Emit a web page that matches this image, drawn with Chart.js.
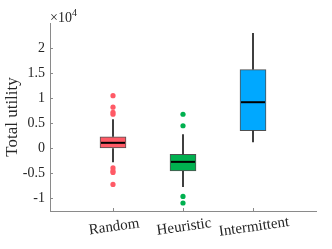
<!DOCTYPE html>
<html>
<head>
<meta charset="utf-8">
<script src="https://cdn.jsdelivr.net/npm/chart.js@4"></script>
<style>
  html, body { margin: 0; padding: 0; background: #fff; }
  #wrap { width: 332px; height: 249px; }
</style>
</head>
<body>
<div id="wrap"><canvas id="chart" width="332" height="249"></canvas></div>
<script>
// values in units of 10^4
const categories = ['Random', 'Heuristic', 'Intermittent'];
const q1 = [0.0, -0.45, 0.35];
const q3 = [0.23, -0.12, 1.57];
const medians = [0.11, -0.27, 0.92];
const whiskerLow = [-0.28, -0.77, 0.12];
const whiskerHigh = [0.58, 0.28, 2.30];
const outliersRandom = [1.05, 0.82, 0.72, 0.68, -0.39, -0.45, -0.48, -0.72];
const outliersHeuristic = [0.68, 0.45, -0.96, -1.09];
const outliersIntermittent = [];
const yTicks = [-1, -0.5, 0, 0.5, 1, 1.5, 2];

const boxColors = ['#ff5a66', '#00b04f', '#00a8ff'];
const textColor = '#262626';
const axisColor = '#8a8a8a';
const serif = '"Liberation Serif", "Times New Roman", serif';

function pts(vals, i) {
    return vals.map(v => ({ x: i + 1, y: v }));
}

// whiskers, medians, inner ticks, rotated category labels, exponent
const boxExtras = {
    id: 'boxExtras',
    afterDatasetsDraw(chart) {
        const ctx = chart.ctx;
        const xs = chart.scales.x, ys = chart.scales.y;
        const half = 13;
        ctx.save();
        ctx.strokeStyle = '#000';
        for (let i = 0; i < categories.length; i++) {
            const px = xs.getPixelForValue(i + 1);
            ctx.lineWidth = 1.5;
            ctx.beginPath();
            ctx.moveTo(px, ys.getPixelForValue(q3[i]));
            ctx.lineTo(px, ys.getPixelForValue(whiskerHigh[i]));
            ctx.moveTo(px, ys.getPixelForValue(q1[i]));
            ctx.lineTo(px, ys.getPixelForValue(whiskerLow[i]));
            ctx.stroke();
            ctx.lineWidth = 2;
            const my = ys.getPixelForValue(medians[i]);
            ctx.beginPath();
            ctx.moveTo(px - half + 1, my);
            ctx.lineTo(px + half - 1, my);
            ctx.stroke();
        }
        ctx.restore();
    },
    afterDraw(chart) {
        const ctx = chart.ctx;
        const xs = chart.scales.x, ys = chart.scales.y;
        const area = chart.chartArea;
        ctx.save();
        // inward tick marks
        ctx.strokeStyle = axisColor;
        ctx.lineWidth = 1;
        ctx.beginPath();
        yTicks.forEach(v => {
            const py = Math.round(ys.getPixelForValue(v)) + 0.5;
            ctx.moveTo(area.left, py);
            ctx.lineTo(area.left + 3, py);
        });
        categories.forEach((c, i) => {
            const px = Math.round(xs.getPixelForValue(i + 1)) + 0.5;
            ctx.moveTo(px, area.bottom);
            ctx.lineTo(px, area.bottom - 3);
        });
        ctx.stroke();
        // category labels, slightly rotated
        ctx.fillStyle = textColor;
        ctx.font = '15px ' + serif;
        ctx.textAlign = 'center';
        ctx.textBaseline = 'middle';
        categories.forEach((c, i) => {
            const px = xs.getPixelForValue(i + 1);
            ctx.save();
            ctx.translate(px + 1, area.bottom + 16);
            ctx.rotate(-8 * Math.PI / 180);
            ctx.fillText(c, 0, 0);
            ctx.restore();
        });
        // exponent
        ctx.textAlign = 'left';
        ctx.textBaseline = 'alphabetic';
        ctx.font = '14px ' + serif;
        ctx.fillText('\u00d710', area.left, 22);
        const w = ctx.measureText('\u00d710').width;
        ctx.font = '10px ' + serif;
        ctx.fillText('4', area.left + w, 16);
        ctx.restore();
    }
};

new Chart(document.getElementById('chart').getContext('2d'), {
    type: 'bar',
    data: {
        datasets: [
            {
                type: 'bar',
                data: categories.map((c, i) => ({ x: i + 1, y: [q1[i], q3[i]] })),
                backgroundColor: boxColors,
                borderColor: '#505050',
                borderWidth: 1,
                borderSkipped: false,
                barThickness: 26,
                order: 2
            },
            {
                type: 'scatter',
                data: pts(outliersRandom, 0),
                backgroundColor: '#ff5a66',
                borderWidth: 0,
                pointRadius: 2.6,
                order: 1
            },
            {
                type: 'scatter',
                data: pts(outliersHeuristic, 1),
                backgroundColor: '#00b04f',
                borderWidth: 0,
                pointRadius: 2.6,
                order: 1
            },
            {
                type: 'scatter',
                data: pts(outliersIntermittent, 2),
                backgroundColor: '#00a8ff',
                borderWidth: 0,
                pointRadius: 2.6,
                order: 1
            }
        ]
    },
    options: {
        responsive: false,
        animation: false,
        layout: { padding: { left: 0, right: 16, top: 23, bottom: 0 } },
        plugins: {
            legend: { display: false },
            tooltip: { enabled: false }
        },
        scales: {
            x: {
                type: 'linear',
                min: 0.1,
                max: 3.9,
                offset: false,
                afterFit: s => { s.height = 38; },
                grid: { display: true, offset: false, drawOnChartArea: false, drawTicks: false },
                border: { display: true, color: axisColor, width: 1 },
                ticks: { display: false }
            },
            y: {
                min: -1.25,
                max: 2.5,
                afterFit: s => { s.width = 50; },
                afterBuildTicks: s => { s.ticks = yTicks.map(v => ({ value: v })); },
                grid: { display: true, drawOnChartArea: false, drawTicks: false },
                border: { display: true, color: axisColor, width: 1 },
                ticks: {
                    padding: 5,
                    color: textColor,
                    font: { family: serif, size: 14 },
                    callback: v => String(v)
                },
                title: {
                    display: true,
                    text: 'Total utility',
                    color: textColor,
                    font: { family: serif, size: 17 },
                    padding: { top: 2, bottom: 0 }
                }
            }
        }
    },
    plugins: [boxExtras]
});
</script>
</body>
</html>
